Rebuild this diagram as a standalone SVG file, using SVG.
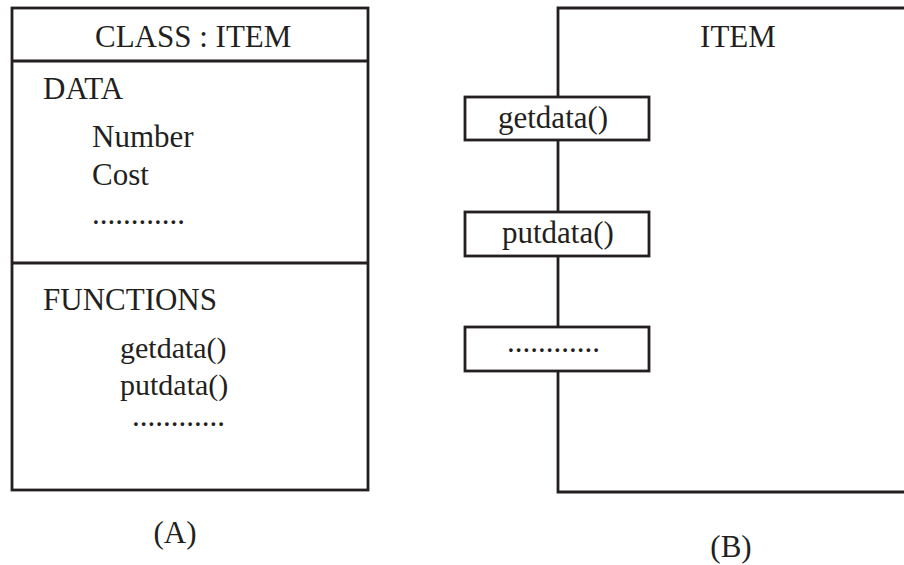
<svg xmlns="http://www.w3.org/2000/svg" width="904" height="565" viewBox="0 0 904 565">
<style>
.ln{fill:none;stroke:#231f20;stroke-width:2.8}
.bx{fill:#fff;stroke:#231f20;stroke-width:2.8}
text{font-family:"Liberation Serif","Times New Roman",serif;font-size:31px;fill:#231f20}
.sm{font-size:30px}
</style>
<rect width="904" height="565" fill="#fff"/>
<g id="classA">
<rect class="ln" x="12" y="8" width="356" height="482"/>
<line class="ln" x1="12" y1="61" x2="368" y2="61"/>
<line class="ln" x1="12" y1="263" x2="368" y2="263"/>
<text x="95" y="47">CLASS : ITEM</text>
<text x="43" y="99">DATA</text>
<text x="92" y="147">Number</text>
<text x="92" y="185">Cost</text>
<text x="92" y="224">............</text>
<text x="43" y="310">FUNCTIONS</text>
<text class="sm" x="120" y="358">getdata()</text>
<text class="sm" x="120" y="395">putdata()</text>
<text x="132" y="426">............</text>
<text x="175" y="543" text-anchor="middle">(A)</text>
</g>
<g id="connectors">
<path class="ln" d="M910,8 H558 V492 H910"/>
</g>
<g id="itemB">
<text x="738" y="47" text-anchor="middle">ITEM</text>
<text x="731" y="557" text-anchor="middle">(B)</text>
</g>
<g id="getdata">
<rect class="bx" x="465" y="97" width="184" height="43"/>
<text x="498" y="128">getdata()</text>
</g>
<g id="putdata">
<rect class="bx" x="465" y="212" width="184" height="44"/>
<text x="502" y="243">putdata()</text>
</g>
<g id="more">
<rect class="bx" x="465" y="327" width="184" height="44"/>
<text x="507" y="352">............</text>
</g>
</svg>
